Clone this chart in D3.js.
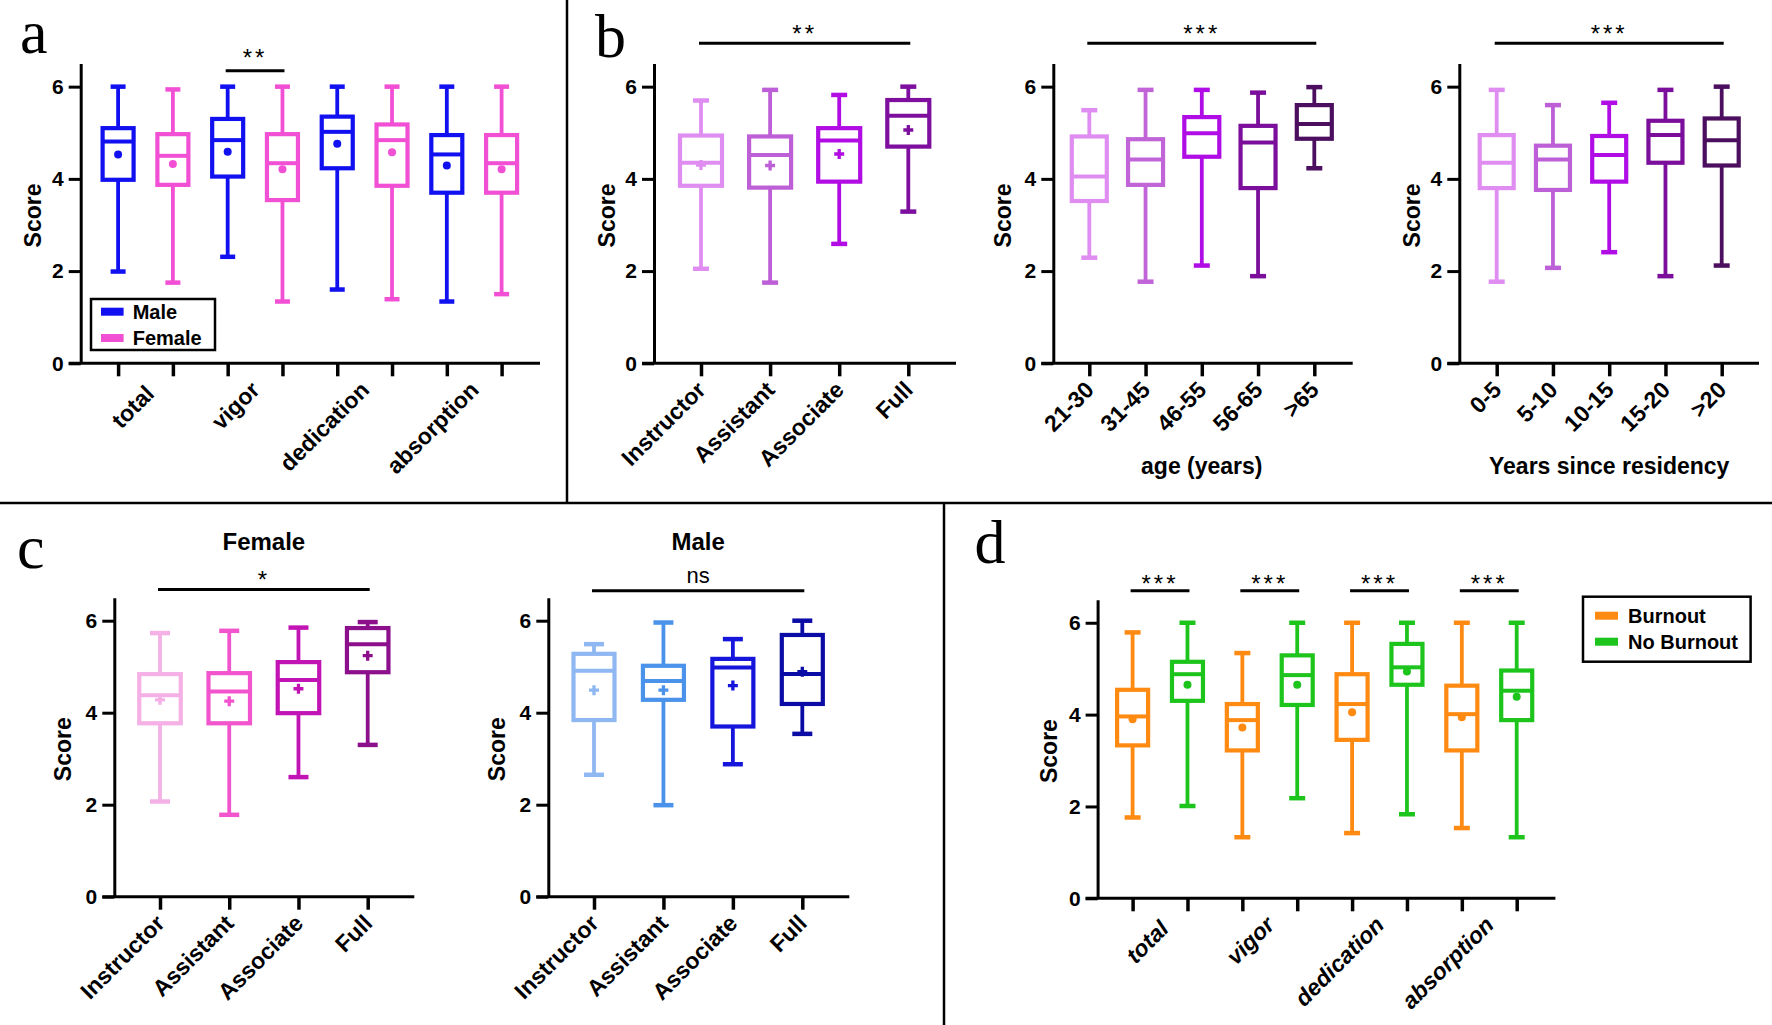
<!DOCTYPE html>
<html><head><meta charset="utf-8">
<script src="https://cdn.jsdelivr.net/npm/d3@7"></script>
<style>body{margin:0;background:#fff} svg{display:block}</style>
</head><body>
<svg id="fig" width="1772" height="1025"></svg>
<script>
// ---------------- DATA ----------------
// each box: [min, q1, median, q3, max, mean]
const yTicks = [0, 2, 4, 6];

const workCategories = ["total", "vigor", "dedication", "absorption"];
const genderGroups = ["Male", "Female"];
const aStats = [
  [1.99, 3.98, 4.81, 5.10, 6.00, 4.53],
  [1.75, 3.87, 4.50, 4.97, 5.94, 4.32],
  [2.31, 4.05, 4.84, 5.30, 6.00, 4.59],
  [1.34, 3.54, 4.34, 4.97, 6.00, 4.21],
  [1.60, 4.23, 5.02, 5.35, 6.00, 4.76],
  [1.39, 3.85, 4.84, 5.18, 6.00, 4.58],
  [1.34, 3.70, 4.53, 4.95, 6.00, 4.29],
  [1.50, 3.70, 4.34, 4.95, 6.00, 4.21]
];

const rankCategories = ["Instructor", "Assistant", "Associate", "Full"];
const bRankStats = [
  [2.05, 3.85, 4.35, 4.94, 5.70, 4.30],
  [1.75, 3.81, 4.52, 4.92, 5.93, 4.29],
  [2.59, 3.94, 4.83, 5.10, 5.82, 4.54],
  [3.29, 4.70, 5.37, 5.71, 6.00, 5.06]
];

const ageCategories = ["21-30", "31-45", "46-55", "56-65", ">65"];
const bAgeStats = [
  [2.29, 3.52, 4.05, 4.92, 5.49],
  [1.77, 3.87, 4.42, 4.86, 5.93],
  [2.12, 4.48, 4.99, 5.34, 5.93],
  [1.89, 3.80, 4.79, 5.15, 5.87],
  [4.23, 4.87, 5.19, 5.60, 5.99]
];

const residencyCategories = ["0-5", "5-10", "10-15", "15-20", ">20"];
const bResStats = [
  [1.77, 3.80, 4.35, 4.95, 5.93],
  [2.07, 3.76, 4.42, 4.72, 5.60],
  [2.41, 3.94, 4.52, 4.93, 5.65],
  [1.89, 4.35, 4.95, 5.26, 5.93],
  [2.12, 4.29, 4.84, 5.31, 6.00]
];

const cFemaleStats = [
  [2.07, 3.77, 4.38, 4.84, 5.73, 4.28],
  [1.78, 3.77, 4.46, 4.86, 5.78, 4.25],
  [2.60, 3.99, 4.71, 5.10, 5.85, 4.52],
  [3.30, 4.88, 5.49, 5.84, 5.97, 5.24]
];
const cMaleStats = [
  [2.65, 3.84, 4.91, 5.28, 5.49, 4.49],
  [1.99, 4.28, 4.69, 5.02, 5.96, 4.49],
  [2.88, 3.70, 4.98, 5.17, 5.60, 4.59],
  [3.54, 4.19, 4.84, 5.69, 6.00, 4.89]
];

const burnoutGroups = ["Burnout", "No Burnout"];
const dStats = [
  [1.76, 3.33, 3.96, 4.54, 5.79, 3.90],
  [2.01, 4.30, 4.88, 5.15, 6.00, 4.65],
  [1.33, 3.22, 3.88, 4.23, 5.34, 3.72],
  [2.18, 4.21, 4.86, 5.29, 6.00, 4.65],
  [1.42, 3.45, 4.23, 4.88, 6.00, 4.05],
  [1.83, 4.65, 5.03, 5.54, 6.00, 4.94],
  [1.53, 3.22, 4.01, 4.63, 6.00, 3.94],
  [1.33, 3.88, 4.52, 4.96, 6.00, 4.39]
];

// ---------------- COLOURS ----------------
const genderColors = ["#1010F0", "#F250D4"];
const rankColors = ["#E08DF2", "#BD5FD6", "#B00CE3", "#7D0E9E"];
const ageColors = ["#E08DF2", "#C064D8", "#B00CE6", "#7B0E9B", "#4C0E5F"];
const resColors = ["#E08DF2", "#BD5FD6", "#B00CE6", "#7B0E9B", "#4C0E5F"];
const femaleRankColors = ["#F5B0E6", "#F254CE", "#C214B5", "#8C108C"];
const maleRankColors = ["#8FB7F2", "#4A92EA", "#1515DC", "#0B0BA6"];
const burnoutColors = ["#FF8A12", "#1CC41C"];

// ---------------- DRAWING ----------------
const SANS = "'Liberation Sans', Arial, sans-serif";
const SERIF = "'Liberation Serif', 'Times New Roman', serif";
const svg = d3.select("#fig");

function boxPanel(o) {
  const g = svg.append("g");
  const y = d3.scaleLinear().domain([0, 6.5]).range([o.yb, o.yt]);
  const keys = o.stats.map((d, i) => "k" + i);
  const x = d3.scalePoint().domain(keys).range([o.x0, o.x1]);

  // y axis
  const ya = g.append("g").attr("transform", `translate(${o.ax},0)`)
    .call(d3.axisLeft(y).tickValues(yTicks).tickSize(12).tickSizeOuter(0).tickPadding(5).tickFormat(d3.format("d")));
  ya.select(".domain").attr("stroke", "#000").attr("stroke-width", 3);
  ya.selectAll(".tick line").attr("stroke", "#000").attr("stroke-width", 3);
  ya.selectAll(".tick text").attr("fill", "#000").style("font-family", SANS)
    .style("font-size", "21px").style("font-weight", "bold");

  // x axis ticks
  const xa = g.append("g").attr("transform", `translate(0,${y(0)})`)
    .call(d3.axisBottom(x).tickSize(13).tickFormat(""));
  xa.select(".domain").remove();
  xa.selectAll(".tick line").attr("stroke", "#000").attr("stroke-width", 3.5);
  g.append("line").attr("x1", o.ax - 12).attr("x2", o.xEnd).attr("y1", y(0)).attr("y2", y(0))
    .attr("stroke", "#000").attr("stroke-width", 3);

  // boxes
  o.stats.forEach((s, i) => {
    const cx = x(keys[i]);
    const col = o.colors[i];
    const w = o.boxW, cw = o.capW;
    const bg = g.append("g").attr("stroke", col).attr("fill", "none");
    bg.append("line").attr("x1", cx).attr("x2", cx).attr("y1", y(s[3])).attr("y2", y(s[4])).attr("stroke-width", 3.8);
    bg.append("line").attr("x1", cx).attr("x2", cx).attr("y1", y(s[1])).attr("y2", y(s[0])).attr("stroke-width", 3.8);
    bg.append("line").attr("x1", cx - cw / 2).attr("x2", cx + cw / 2).attr("y1", y(s[4])).attr("y2", y(s[4])).attr("stroke-width", 4.5);
    bg.append("line").attr("x1", cx - cw / 2).attr("x2", cx + cw / 2).attr("y1", y(s[0])).attr("y2", y(s[0])).attr("stroke-width", 4.5);
    bg.append("rect").attr("x", cx - w / 2).attr("width", w).attr("y", y(s[3])).attr("height", y(s[1]) - y(s[3]))
      .attr("fill", "#fff").attr("stroke-width", 4.2);
    bg.append("line").attr("x1", cx - w / 2).attr("x2", cx + w / 2).attr("y1", y(s[2])).attr("y2", y(s[2])).attr("stroke-width", 4);
    if (s.length > 5 && o.mean) {
      if (o.mean === "dot") {
        g.append("circle").attr("cx", cx).attr("cy", y(s[5])).attr("r", 4).attr("fill", col);
      } else {
        g.append("path").attr("d", d3.symbol(d3.symbolCross, 55)())
          .attr("transform", `translate(${cx},${y(s[5])})`).attr("fill", col);
      }
    }
  });

  // x labels
  o.labels.forEach((t, j) => {
    let px;
    if (o.pairs) px = (x(keys[2 * j]) + x(keys[2 * j + 1])) / 2;
    else px = x(keys[j]);
    const dx = (o.pairs && j === 0) ? 4 : 0;
    g.append("text").text(t)
      .attr("transform", `translate(${px + 6 + dx},${y(0) + 28 + dx}) rotate(-45)`)
      .attr("text-anchor", "end").style("font-family", SANS).style("font-size", "23px")
      .style("font-weight", "bold").style("font-style", o.italic ? "italic" : "normal");
  });

  // y title
  g.append("text").text("Score")
    .attr("transform", `translate(${o.titleX},${(y(0) + y(6.5)) / 2 + 2}) rotate(-90)`)
    .attr("text-anchor", "middle").attr("dominant-baseline", "central")
    .style("font-family", SANS).style("font-size", "23px").style("font-weight", "bold");

  // significance
  (o.sig || []).forEach(sg => {
    const xa1 = x(keys[sg.from]) - 2, xa2 = x(keys[sg.to]) + 2;
    g.append("line").attr("x1", xa1).attr("x2", xa2).attr("y1", sg.y).attr("y2", sg.y)
      .attr("stroke", "#000").attr("stroke-width", 3);
    g.append("text").text(sg.text).attr("x", (xa1 + xa2) / 2).attr("y", sg.ty)
      .attr("text-anchor", "middle").style("font-family", SANS)
      .style("font-size", sg.text === "ns" ? "22px" : "24px")
      .style("letter-spacing", sg.text === "ns" ? "0px" : "3px");
  });

  if (o.xTitle) {
    g.append("text").text(o.xTitle).attr("x", (o.x0 + o.x1) / 2).attr("y", 474)
      .attr("text-anchor", "middle").style("font-family", SANS).style("font-size", "23px").style("font-weight", "bold");
  }
  if (o.title) {
    g.append("text").text(o.title).attr("x", (o.x0 + o.x1) / 2).attr("y", 550)
      .attr("text-anchor", "middle").style("font-family", SANS).style("font-size", "24px").style("font-weight", "bold");
  }
  return { x, y, keys };
}

// panel a
boxPanel({ ax: 80.7, xEnd: 540, x0: 118.1, x1: 501.6, yb: 363.3, yt: 63.6, stats: aStats,
  colors: aStats.map((d, i) => genderColors[i % 2]), boxW: 31, capW: 15, mean: "dot",
  labels: workCategories, pairs: true, titleX: 33,
  sig: [{ from: 2, to: 3, y: 70.7, text: "**", ty: 66 }] });

// panel b
boxPanel({ ax: 654, xEnd: 956, x0: 701, x1: 908.3, yb: 363.3, yt: 63.6, stats: bRankStats,
  colors: rankColors, boxW: 42, capW: 16, mean: "cross", labels: rankCategories, titleX: 606.7,
  sig: [{ from: 0, to: 3, y: 43.3, text: "**", ty: 42 }] });
boxPanel({ ax: 1053.3, xEnd: 1352.7, x0: 1089.3, x1: 1314.3, yb: 363.3, yt: 63.6, stats: bAgeStats,
  colors: ageColors, boxW: 35, capW: 16, labels: ageCategories, titleX: 1003.3, xTitle: "age (years)",
  sig: [{ from: 0, to: 4, y: 43.3, text: "***", ty: 42 }] });
boxPanel({ ax: 1459.3, xEnd: 1759, x0: 1496.7, x1: 1721.7, yb: 363.3, yt: 63.6, stats: bResStats,
  colors: resColors, boxW: 34, capW: 16, labels: residencyCategories, titleX: 1411.7, xTitle: "Years since residency",
  sig: [{ from: 0, to: 4, y: 43.3, text: "***", ty: 42 }] });

// panel c
boxPanel({ ax: 114.3, xEnd: 414.3, x0: 160, x1: 367.7, yb: 896.7, yt: 597.7, stats: cFemaleStats,
  colors: femaleRankColors, boxW: 41.5, capW: 20, mean: "cross", labels: rankCategories, titleX: 63.3,
  title: "Female", sig: [{ from: 0, to: 3, y: 589.5, text: "*", ty: 588 }] });
boxPanel({ ax: 548.3, xEnd: 849.3, x0: 594, x1: 802.3, yb: 896.7, yt: 597.7, stats: cMaleStats,
  colors: maleRankColors, boxW: 41, capW: 20, mean: "cross", labels: rankCategories, titleX: 496.7,
  title: "Male", sig: [{ from: 0, to: 3, y: 590.7, text: "ns", ty: 583 }] });

// panel d
boxPanel({ ax: 1097.6, xEnd: 1555.4, x0: 1132.6, x1: 1516.7, yb: 898.3, yt: 599.8, stats: dStats,
  colors: dStats.map((d, i) => burnoutColors[i % 2]), boxW: 31, capW: 16, mean: "dot",
  labels: workCategories, pairs: true, italic: true, titleX: 1048.8,
  sig: [0, 1, 2, 3].map(j => ({ from: 2 * j, to: 2 * j + 1, y: 590.7, text: "***", ty: 592 })) });

// legends
function legend(x0, y0, w, h, names, cols, rowYs, sw0, sw1, tx) {
  const g = svg.append("g");
  g.append("rect").attr("x", x0).attr("y", y0).attr("width", w).attr("height", h)
    .attr("fill", "#fff").attr("stroke", "#000").attr("stroke-width", 2.5);
  names.forEach((n, i) => {
    g.append("rect").attr("x", sw0).attr("y", rowYs[i] - 4).attr("width", sw1 - sw0).attr("height", 8).attr("fill", cols[i]);
    g.append("text").text(n).attr("x", tx).attr("y", rowYs[i] + 7)
      .style("font-family", SANS).style("font-size", "20px").style("font-weight", "bold");
  });
}
legend(91, 299, 124, 51, genderGroups, genderColors, [311.7, 338], 101, 123.6, 132.7);
legend(1583, 596.7, 167.6, 65, burnoutGroups, burnoutColors, [615.7, 641.7], 1595, 1618, 1628);

// panel letters
[["a", 20, 53], ["b", 595, 57], ["c", 17, 568], ["d", 974.5, 563]].forEach(p => {
  svg.append("text").text(p[0]).attr("x", p[1]).attr("y", p[2])
    .style("font-family", SERIF).style("font-size", "62px");
});

// dividers
const div = [[567, 0, 567, 503], [0, 503, 1772, 503], [944, 503, 944, 1025]];
div.forEach(l => svg.append("line").attr("x1", l[0]).attr("y1", l[1]).attr("x2", l[2]).attr("y2", l[3])
  .attr("stroke", "#000").attr("stroke-width", 2.5));
</script>
</body></html>
